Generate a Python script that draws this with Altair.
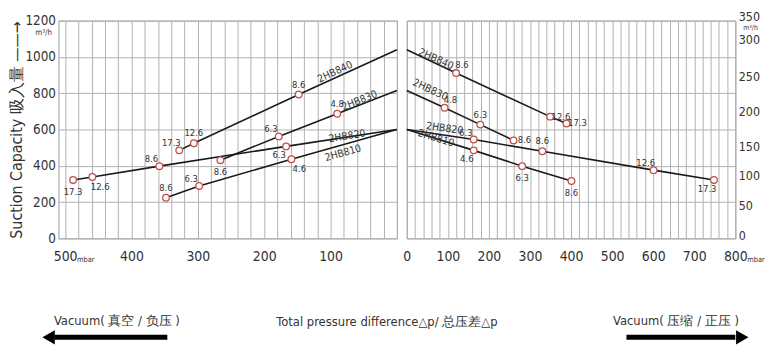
import altair as alt
import pandas as pd

# ---------------- data ----------------
models = ["2HB840", "2HB830", "2HB820", "2HB810"]

# vacuum side (left panel): pressure difference in mbar, capacity in m3/h
vac_p = {
    "2HB840": [0, 148, 306, 328],
    "2HB830": [0, 90, 178, 266],
    "2HB820": [0, 167, 358, 459, 488],
    "2HB810": [0, 159, 298, 348],
}
vac_q = {
    "2HB840": [1040, 793, 524, 485],
    "2HB830": [815, 687, 562, 431],
    "2HB820": [600, 507, 398, 338, 322],
    "2HB810": [600, 436, 289, 224],
}
vac_lab = {
    "2HB840": ["", "8.6", "12.6", "17.3"],
    "2HB830": ["", "4.8", "6.3", "8.6"],
    "2HB820": ["", "6.3", "8.6", "12.6", "17.3"],
    "2HB810": ["", "4.6", "6.3", "8.6"],
}
vac_pos = {
    "2HB840": ["", "N", "N", "NW"],
    "2HB830": ["", "N", "NW", "S"],
    "2HB820": ["", "SW", "NW", "SE", "S"],
    "2HB810": ["", "SE", "NW", "N"],
}

# pressure side (right panel)
prs_p = {
    "2HB840": [0, 120, 349, 389],
    "2HB830": [0, 92, 179, 260],
    "2HB820": [0, 163, 330, 601, 748],
    "2HB810": [0, 163, 281, 401],
}
prs_q = {
    "2HB840": [1040, 911, 671, 633],
    "2HB830": [815, 720, 627, 540],
    "2HB820": [600, 545, 480, 376, 322],
    "2HB810": [600, 485, 398, 316],
}
prs_lab = {
    "2HB840": ["", "8.6", "12.6", "17.3"],
    "2HB830": ["", "4.8", "6.3", "8.6"],
    "2HB820": ["", "6.3", "8.6", "12.6", "17.3"],
    "2HB810": ["", "4.6", "6.3", "8.6"],
}
prs_pos = {
    "2HB840": ["", "NE", "E", "E"],
    "2HB830": ["", "NE", "N", "E"],
    "2HB820": ["", "NW", "N", "NW", "SW"],
    "2HB810": ["", "SW", "S", "S"],
}

# model name annotations along the lines
vac_name_p = [93, 56, 75, 81]
vac_name_q = [916, 758, 562, 469]
vac_name_angle = [335, 338, 351, 344]
prs_name_p = [71, 57, 92, 71]
prs_name_q = [987, 818, 605, 551]
prs_name_angle = [24, 25, 8, 17]

left_y_ticks = [0, 200, 400, 600, 800, 1000, 1200]
right_y_ticks = [0, 50, 100, 150, 200, 250, 300, 350]
# the original's right-hand axis is unevenly spaced; pixel rows of its labels
right_y_rows = [217, 187, 157, 127, 92, 56, 19, -4]

# ---------------- styling ----------------
FONT = "'DejaVu Sans Condensed', 'Roboto Condensed', 'Liberation Sans Narrow', 'Arial Narrow', 'Liberation Sans', sans-serif"
TXT = "#333333"
GRID = "#b0b0b0"
RED = "#c0504d"
W_L, W_R, H = 342, 332, 220

OFF = {"N": (0, -10), "S": (0, 12), "NE": (6, -8), "NW": (-8, -7),
       "SE": (8, 10), "SW": (-7, 9), "E": (11, 0)}


def frame(p, q, lab, pos):
    rows = []
    for m in models:
        for a, b, c, d in zip(p[m], q[m], lab[m], pos[m]):
            rows.append({"model": m, "p": a, "q": b, "lab": c, "pos": d})
    return pd.DataFrame(rows)


one = pd.DataFrame({"k": [0]})


def text_at(t, x, y, size, align="center", **kw):
    return alt.Chart(one).mark_text(text=t, fontSize=size, align=align, baseline="middle",
                                    color=TXT, font=FONT, **kw).encode(
        x=alt.value(x), y=alt.value(y))


def arrow(x1, x2, y, head_x, shape):
    shaft = alt.Chart(one).mark_rule(strokeWidth=5, color="black").encode(
        x=alt.value(x1), x2=alt.value(x2), y=alt.value(y))
    head = alt.Chart(one).mark_point(shape=shape, filled=True, size=210, color="black",
                                     opacity=1).encode(x=alt.value(head_x), y=alt.value(y))
    return [shaft, head]


def panel(df, x, y, names_p, names_q, names_angle):
    lines = alt.Chart(df).mark_line(color="#1a1a1a", strokeWidth=1.6).encode(
        x=x, y=y, detail="model:N", order="p:Q")
    pts_df = df[df["lab"] != ""]
    pts = alt.Chart(pts_df).mark_point(shape="circle", size=45, filled=True, fill="white",
                                       stroke=RED, strokeWidth=1.3, opacity=1).encode(
        x=x, y=y)
    layers = [lines, pts]
    for code, (dx, dy) in OFF.items():
        sub = pts_df[pts_df["pos"] == code]
        if len(sub) == 0:
            continue
        layers.append(alt.Chart(sub).mark_text(dx=dx, dy=dy, fontSize=9.5, font=FONT,
                                               color=TXT).encode(
            x=x, y=y, text="lab:N"))
    for m, a, b, ang in zip(models, names_p, names_q, names_angle):
        nd = pd.DataFrame({"p": [a], "q": [b], "name": [m]})
        layers.append(alt.Chart(nd).mark_text(angle=ang, fontSize=10.5, font=FONT,
                                              color=TXT).encode(
            x=x, y=y, text="name:N"))
    return layers


vac_df = frame(vac_p, vac_q, vac_lab, vac_pos)
prs_df = frame(prs_p, prs_q, prs_lab, prs_pos)

AX = dict(ticks=False, domain=False, labelOverlap=False, labelFontSize=14, labelFont=FONT,
          labelColor=TXT, gridColor=GRID, gridWidth=1)

left_x = alt.X("p:Q", scale=alt.Scale(domain=[0, 510], reverse=True, nice=False),
               axis=alt.Axis(values=list(range(0, 501, 20)),
                             labelExpr="datum.value % 100 == 0 && datum.value > 0 ? datum.value : ''",
                             grid=True, title=None, labelPadding=11, labelFlush=False, **AX))
right_x = alt.X("p:Q", scale=alt.Scale(domain=[0, 800], nice=False),
                axis=alt.Axis(values=list(range(0, 801, 20)),
                              labelExpr="datum.value % 100 == 0 ? datum.value : ''",
                              grid=True, title=None, labelPadding=11, labelFlush=False, **AX))
yscale = alt.Scale(domain=[0, 1200], nice=False)
AXY = dict(AX, labelFontSize=13.5)
left_y = alt.Y("q:Q", scale=yscale,
               axis=alt.Axis(values=left_y_ticks, grid=True, format="d", labelPadding=3,
                             title="Suction Capacity 吸入量 ——→", titleFontSize=16,
                             titleFontWeight="normal", titleColor=TXT, titlePadding=0,
                             titleFont=FONT, **AXY))
right_y = alt.Y("q:Q", scale=yscale,
                axis=alt.Axis(values=left_y_ticks, grid=True, labels=False, title=None, **AX))

left_layers = panel(vac_df, left_x, left_y, vac_name_p, vac_name_q, vac_name_angle)
left_layers += [
    text_at("m³/h", -15, 13, 8),
    alt.Chart(pd.DataFrame({"p": [500]})).mark_text(
        text="mbar", fontSize=7.5, align="left", color=TXT, font=FONT, dx=12).encode(
        x=left_x, y=alt.value(H + 22)),
    text_at("Vacuum( 真空 / 负压 )", 59, 304, 13),
]
left_layers += arrow(-4, 110, 320, -10, "triangle-left")
left = alt.layer(*left_layers).properties(width=W_L, height=H)

right_layers = panel(prs_df, right_x, right_y, prs_name_p, prs_name_q, prs_name_angle)
right_layers += [
    text_at("m³/h", 340, 7.5, 7, align="left"),
    alt.Chart(pd.DataFrame({"p": [800]})).mark_text(
        text="mbar", fontSize=7.5, align="left", color=TXT, font=FONT, dx=12).encode(
        x=right_x, y=alt.value(H + 22)),
    text_at("Vacuum( 压缩 / 正压 )", 272, 304, 13),
]
right_layers += arrow(222, 332, 320, 339, "triangle-right")
right_main = alt.layer(*right_layers)
right_axis_layer = alt.Chart(pd.DataFrame({"r": right_y_ticks})).mark_point(opacity=0).encode(
    y=alt.Y("r:Q", scale=alt.Scale(domain=right_y_ticks, range=right_y_rows, nice=False),
            axis=alt.Axis(orient="right", values=right_y_ticks, grid=False, title=None,
                          labelPadding=3, **dict(AX, labelFontSize=12.5))),
    x=alt.value(0))
right = alt.layer(right_main, right_axis_layer).resolve_scale(y="independent").properties(
    width=W_R, height=H)

chart = alt.hconcat(left, right, spacing=1).properties(
    padding={"left": 0, "top": 0, "right": 0, "bottom": 0},
    title=alt.TitleParams("Total pressure difference△p/ 总压差△p", orient="bottom",
                          anchor="middle", fontSize=13, font=FONT, fontWeight="normal",
                          color=TXT, offset=-29),
).configure_view(stroke="#9a9a9a", strokeWidth=1)

chart.save("out.html", embed_options={"renderer": "svg", "actions": False})
